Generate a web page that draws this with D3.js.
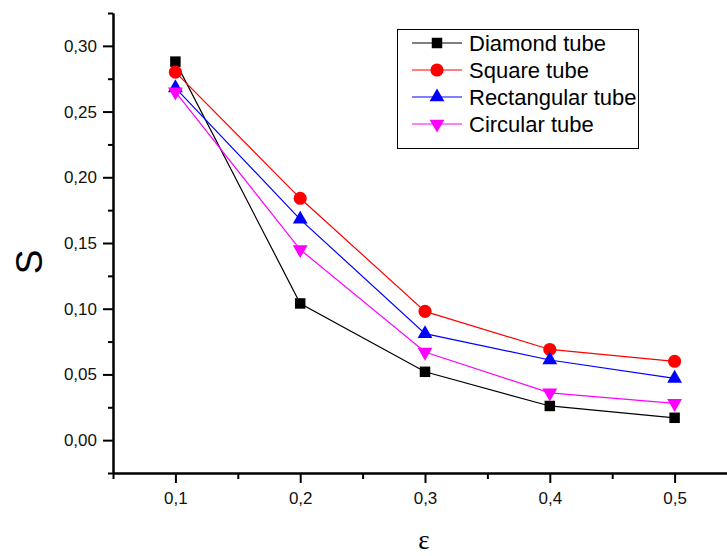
<!DOCTYPE html>
<html>
<head>
<meta charset="utf-8">
<script src="https://cdn.jsdelivr.net/npm/d3@7"></script>
<style>
  body { margin: 0; background: #fff; }
  text { font-family: "Liberation Sans", Arial, sans-serif; }
</style>
</head>
<body>
<div class="chart"></div>
<script>
// data
var eps = [0.1, 0.2, 0.3, 0.4, 0.5];
var diamond = [0.288, 0.104, 0.052, 0.026, 0.017];
var square = [0.280, 0.184, 0.098, 0.069, 0.060];
var rectangular = [0.268, 0.168, 0.081, 0.061, 0.047];
var circular = [0.265, 0.145, 0.067, 0.036, 0.028];
var seriesNames = ['Diamond tube', 'Square tube', 'Rectangular tube', 'Circular tube'];
var yTicks = [0, 0.05, 0.10, 0.15, 0.20, 0.25, 0.30];
var xTicks = [0.1, 0.2, 0.3, 0.4, 0.5];

var W = 727, H = 556;
var margin = { top: 13, left: 113, bottom: 83 };

var svg = d3.select('.chart')
  .append('svg')
    .attr('width', W)
    .attr('height', H);

var xScale = d3.scaleLinear()
  .domain([0.05, 0.55])
  .range([margin.left, 737]);

var yScale = d3.scaleLinear()
  .domain([-0.025, 0.325])
  .range([H - margin.bottom, margin.top]);

var fmt = d3.format('.2f');
var comma = v => fmt(v).replace('.', ',');

// y axis
var yAxis = d3.axisLeft(yScale)
  .tickValues(yTicks)
  .tickFormat(comma)
  .tickSize(10)
  .tickPadding(6)
  .tickSizeOuter(0);

var yMinor = d3.axisLeft(yScale)
  .tickValues(d3.range(-0.025, 0.33, 0.05))
  .tickFormat('')
  .tickSize(5)
  .tickSizeOuter(0);

svg.append('g')
  .attr('transform', `translate(${margin.left},0)`)
  .call(yAxis);
svg.append('g')
  .attr('transform', `translate(${margin.left},0)`)
  .call(yMinor);

// x axis
var xAxis = d3.axisBottom(xScale)
  .tickValues(xTicks)
  .tickFormat(v => d3.format('.1f')(v).replace('.', ','))
  .tickSize(10)
  .tickPadding(9)
  .tickSizeOuter(0);

var xMinor = d3.axisBottom(xScale)
  .tickValues([0.05, 0.15, 0.25, 0.35, 0.45])
  .tickFormat('')
  .tickSize(6)
  .tickSizeOuter(0);

svg.append('g')
  .attr('transform', `translate(0,${H - margin.bottom})`)
  .call(xAxis);
svg.append('g')
  .attr('transform', `translate(0,${H - margin.bottom})`)
  .call(xMinor);

svg.selectAll('.domain').attr('stroke', '#000').attr('stroke-width', 2);
svg.selectAll('.tick line').attr('stroke', '#000').attr('stroke-width', 2);
svg.selectAll('.tick text')
  .attr('fill', '#111')
  .style('font-size', '17px')
  .style('font-family', '"Liberation Sans", Arial, sans-serif');

// axis titles
svg.append('text')
  .attr('transform', 'translate(29,262) rotate(-90)')
  .attr('text-anchor', 'middle')
  .attr('dominant-baseline', 'central')
  .style('font-size', '37px')
  .text('S');

svg.append('text')
  .attr('x', 424)
  .attr('y', 549)
  .attr('text-anchor', 'middle')
  .style('font-family', '"Liberation Serif", serif')
  .style('font-size', '27px')
  .text('ε');

// series
var series = [
  { name: seriesNames[0], values: diamond, color: '#000000', shape: d3.symbolSquare, size: 110, rot: 0 },
  { name: seriesNames[1], values: square, color: '#ff0000', shape: d3.symbolCircle, size: 135, rot: 0 },
  { name: seriesNames[2], values: rectangular, color: '#0000ff', shape: d3.symbolTriangle, size: 95, rot: 0 },
  { name: seriesNames[3], values: circular, color: '#ff00ff', shape: d3.symbolTriangle, size: 95, rot: 180 }
];

var line = d3.line()
  .x((d, i) => xScale(eps[i]))
  .y(d => yScale(d));

series.forEach(function(s) {
  svg.append('path')
    .attr('d', line(s.values))
    .attr('fill', 'none')
    .attr('stroke', s.color)
    .attr('stroke-width', 1.2);

  svg.selectAll(null)
    .data(s.values)
    .enter()
    .append('path')
    .attr('d', d3.symbol().type(s.shape).size(s.size))
    .attr('transform', (d, i) => `translate(${xScale(eps[i])},${yScale(d)}) rotate(${s.rot})`)
    .attr('fill', s.color);
});

// legend
var legend = svg.append('g');
legend.append('rect')
  .attr('x', 397.5)
  .attr('y', 29.5)
  .attr('width', 241)
  .attr('height', 119)
  .attr('fill', '#fff')
  .attr('stroke', '#000')
  .attr('stroke-width', 1);

series.forEach(function(s, i) {
  var cy = 43 + i * 27;
  legend.append('line')
    .attr('x1', 412).attr('x2', 462)
    .attr('y1', cy).attr('y2', cy)
    .attr('stroke', s.color)
    .attr('stroke-width', 1.2);
  legend.append('path')
    .attr('d', d3.symbol().type(s.shape).size(s.size))
    .attr('transform', `translate(437,${cy}) rotate(${s.rot})`)
    .attr('fill', s.color);
  legend.append('text')
    .attr('x', 469)
    .attr('y', cy)
    .attr('dominant-baseline', 'central')
    .style('font-size', '22px')
    .text(s.name);
});
</script>
</body>
</html>
